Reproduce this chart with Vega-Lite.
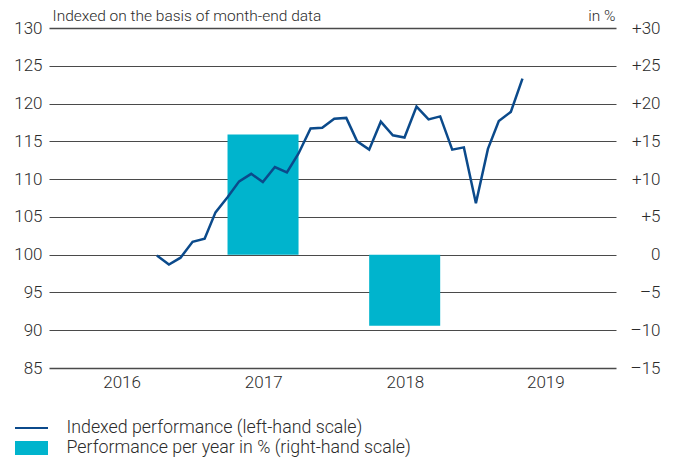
{
  "$schema": "https://vega.github.io/schema/vega-lite/v6.json",
  "width": 567,
  "height": 340,
  "autosize": "none",
  "padding": {"left": 49, "top": 28, "right": 57, "bottom": 91},
  "background": "white",
  "config": {
    "view": {"stroke": null},
    "font": "Roboto",
    "axis": {"labelFont": "Roboto", "labelFontWeight": 300, "labelColor": "#2b2b2b", "labelFontSize": 17, "titleFont": "Roboto", "titleFontWeight": 300, "titleColor": "#2b2b2b", "titleFontSize": 15.5},
    "legend": {"labelFont": "Roboto", "labelFontWeight": 300, "labelColor": "#2b2b2b", "labelFontSize": 17.8, "labelLimit": 0}
  },
  "datasets": {
    "index": [
      {"date": "2016-09-30", "value": 99.9, "series": "Indexed performance (left-hand scale)"},
      {"date": "2016-10-31", "value": 98.7, "series": "Indexed performance (left-hand scale)"},
      {"date": "2016-11-30", "value": 99.6, "series": "Indexed performance (left-hand scale)"},
      {"date": "2016-12-31", "value": 101.7, "series": "Indexed performance (left-hand scale)"},
      {"date": "2017-01-31", "value": 102.1, "series": "Indexed performance (left-hand scale)"},
      {"date": "2017-02-28", "value": 105.6, "series": "Indexed performance (left-hand scale)"},
      {"date": "2017-03-31", "value": 107.6, "series": "Indexed performance (left-hand scale)"},
      {"date": "2017-04-30", "value": 109.7, "series": "Indexed performance (left-hand scale)"},
      {"date": "2017-05-31", "value": 110.7, "series": "Indexed performance (left-hand scale)"},
      {"date": "2017-06-30", "value": 109.6, "series": "Indexed performance (left-hand scale)"},
      {"date": "2017-07-31", "value": 111.6, "series": "Indexed performance (left-hand scale)"},
      {"date": "2017-08-31", "value": 110.9, "series": "Indexed performance (left-hand scale)"},
      {"date": "2017-09-30", "value": 113.4, "series": "Indexed performance (left-hand scale)"},
      {"date": "2017-10-31", "value": 116.7, "series": "Indexed performance (left-hand scale)"},
      {"date": "2017-11-30", "value": 116.8, "series": "Indexed performance (left-hand scale)"},
      {"date": "2017-12-31", "value": 118.0, "series": "Indexed performance (left-hand scale)"},
      {"date": "2018-01-31", "value": 118.1, "series": "Indexed performance (left-hand scale)"},
      {"date": "2018-02-28", "value": 115.0, "series": "Indexed performance (left-hand scale)"},
      {"date": "2018-03-31", "value": 113.9, "series": "Indexed performance (left-hand scale)"},
      {"date": "2018-04-30", "value": 117.6, "series": "Indexed performance (left-hand scale)"},
      {"date": "2018-05-31", "value": 115.8, "series": "Indexed performance (left-hand scale)"},
      {"date": "2018-06-30", "value": 115.5, "series": "Indexed performance (left-hand scale)"},
      {"date": "2018-07-31", "value": 119.6, "series": "Indexed performance (left-hand scale)"},
      {"date": "2018-08-31", "value": 117.9, "series": "Indexed performance (left-hand scale)"},
      {"date": "2018-09-30", "value": 118.3, "series": "Indexed performance (left-hand scale)"},
      {"date": "2018-10-31", "value": 113.9, "series": "Indexed performance (left-hand scale)"},
      {"date": "2018-11-30", "value": 114.2, "series": "Indexed performance (left-hand scale)"},
      {"date": "2018-12-31", "value": 106.8, "series": "Indexed performance (left-hand scale)"},
      {"date": "2019-01-31", "value": 114.0, "series": "Indexed performance (left-hand scale)"},
      {"date": "2019-02-28", "value": 117.7, "series": "Indexed performance (left-hand scale)"},
      {"date": "2019-03-31", "value": 118.9, "series": "Indexed performance (left-hand scale)"},
      {"date": "2019-04-30", "value": 123.3, "series": "Indexed performance (left-hand scale)"}
    ],
    "annual": [
      {"year": 2017, "start": "2017-03-31", "end": "2017-09-30", "perf": 15.9, "series": "Performance per year in % (right-hand scale)"},
      {"year": 2018, "start": "2018-03-31", "end": "2018-09-30", "perf": -9.4, "series": "Performance per year in % (right-hand scale)"}
    ]
  },
  "layer": [
    {
      "data": {"name": "annual"},
      "mark": {"type": "bar"},
      "encoding": {
        "x": {
          "field": "start", "type": "temporal",
          "scale": {"type": "utc", "domain": [{"year": 2015, "month": 12, "date": 27, "utc": true}, {"year": 2019, "month": 12, "date": 27, "utc": true}]},
          "axis": {
            "title": null, "format": "%Y", "ticks": false, "domain": false, "grid": false, "labelPadding": 6,
            "values": [{"year": 2016, "month": 7, "date": 1, "utc": true}, {"year": 2017, "month": 7, "date": 1, "utc": true}, {"year": 2018, "month": 7, "date": 1, "utc": true}, {"year": 2019, "month": 6, "date": 28, "utc": true}]
          }
        },
        "x2": {"field": "end"},
        "y": {
          "field": "perf", "type": "quantitative",
          "scale": {"domain": [-15, 30], "nice": false, "zero": false},
          "axis": {
            "orient": "right", "values": [-15, -10, -5, 0, 5, 10, 15, 20, 25, 30],
            "grid": false, "ticks": false, "domain": false,
            "labelAlign": "right", "labelPadding": 44,
            "labelExpr": "datum.value > 0 ? '+' + datum.value : (datum.value < 0 ? '–' + abs(datum.value) : '0')",
            "title": "in %", "titleAngle": 0, "titleX": -1, "titleY": -5, "titleAlign": "right", "titleBaseline": "bottom"
          }
        },
        "y2": {"datum": 0},
        "color": {
          "field": "series", "type": "nominal",
          "scale": {"domain": ["Indexed performance (left-hand scale)", "Performance per year in % (right-hand scale)"], "range": ["#0b4a8b", "#00b4cd"]}
        }
      }
    },
    {
      "data": {"name": "index"},
      "mark": {"type": "line", "strokeWidth": 2.5},
      "encoding": {
        "x": {"field": "date", "type": "temporal"},
        "y": {
          "field": "value", "type": "quantitative",
          "scale": {"domain": [85, 130], "nice": false, "zero": false},
          "axis": {
            "orient": "left", "values": [85, 90, 95, 100, 105, 110, 115, 120, 125, 130],
            "grid": true, "gridColor": "#4a4a4a",
            "gridWidth": {"condition": {"test": "datum.value == 130 || datum.value == 85", "value": 1.6}, "value": 1},
            "ticks": false, "domain": false, "labelPadding": 7,
            "title": "Indexed on the basis of month-end data", "titleAngle": 0, "titleX": 3, "titleY": -5, "titleAlign": "left", "titleBaseline": "bottom"
          }
        },
        "color": {
          "field": "series", "type": "nominal",
          "scale": {"domain": ["Indexed performance (left-hand scale)", "Performance per year in % (right-hand scale)"], "range": ["#0b4a8b", "#00b4cd"]},
          "legend": {
            "orient": "none", "legendX": -27.5, "legendY": 390, "title": null, "padding": 0,
            "symbolSize": 400, "symbolStrokeWidth": 0, "labelOffset": 25, "rowPadding": 1,
            "encode": {
              "symbols": {
                "update": {
                  "shape": {"signal": "datum.value == 'Indexed performance (left-hand scale)' ? 'M-1.65,-0.1H1.65V0.1H-1.65Z' : 'M-1.65,-0.7H1.65V0.7H-1.65Z'"},
                  "fill": {"scale": "color", "field": "value"},
                  "stroke": {"value": "transparent"}
                }
              }
            }
          }
        }
      }
    }
  ],
  "resolve": {"scale": {"y": "independent"}}
}
